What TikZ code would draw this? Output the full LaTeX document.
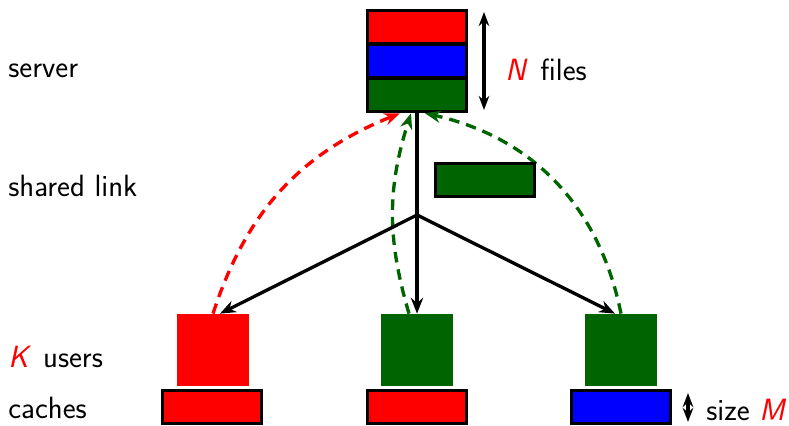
\documentclass[tikz,border=0pt]{standalone}
\usetikzlibrary{positioning, arrows.meta}
\definecolor{dkgreen}{RGB}{0,100,0}
\begin{document}
\begin{tikzpicture}[
    font=\sffamily\fontsize{17.5}{20}\selectfont,
    file/.style={rectangle, draw, line width=2pt, minimum width=1.98cm, minimum height=0.66cm, inner sep=0pt},
    user/.style={rectangle, minimum width=1.44cm, minimum height=1.44cm, inner sep=0pt},
    label/.style={anchor=base west, inner sep=0pt},
    link/.style={-{Stealth[length=9pt, width=7pt]}, line width=1.9pt},
    req/.style={-{Stealth[length=9pt, width=7pt]}, line width=1.9pt, dash pattern=on 6pt off 4pt},
    span/.style={{Stealth[length=8pt, width=6pt]}-{Stealth[length=8pt, width=6pt]}, line width=1.9pt}
]
    \useasboundingbox (0,0) rectangle (15.78,8.52);

    % Server
    \node[file, fill=red] (srvred) at (8.34,7.98) {};
    \node[file, fill=blue] (srvblue) at (8.34,7.30) {};
    \node[file, fill=dkgreen] (srvgreen) at (8.34,6.62) {};
    \coordinate (ntop) at (9.68,8.28);
    \coordinate (nbot) at (9.68,6.32);
    \draw[span] (ntop) -- (nbot);
    \node[anchor=west, inner sep=0pt] (nfiles) at (10.1,7.12) {\textit{\textcolor{red}{N}}\, files};

    % Nutzer und Caches
    \node[user, fill=red] (uleft) at (4.26,1.52) {};
    \node[user, fill=dkgreen] (umid) at (8.34,1.52) {};
    \node[user, fill=dkgreen] (uright) at (12.42,1.52) {};
    \node[file, fill=red] (cleft) at (4.24,0.38) {};
    \node[file, fill=red] (cmid) at (8.34,0.38) {};
    \node[file, fill=blue] (cright) at (12.42,0.38) {};
    \coordinate (mtop) at (13.76,0.66);
    \coordinate (mbot) at (13.76,0.08);
    \draw[span] (mtop) -- (mbot);
    \node[anchor=west, inner sep=0pt] (msize) at (14.12,0.32) {size \textit{\textcolor{red}{M}}};

    % Beschriftung links
    \node[label] (lserver) at (0.16,6.96) {server};
    \node[label] (llink) at (0.16,4.58) {shared link};
    \node[label] (lusers) at (0.16,1.16) {\textit{\textcolor{red}{K}}\, users};
    \node[label] (lcaches) at (0.16,0.14) {caches};

    % Anfragen
    \draw[req, red] (uleft.north) to[bend left=25] ([xshift=-0.34cm]srvgreen.south);
    \draw[req, dkgreen] ([xshift=-0.16cm]umid.north) to[bend left=17] ([xshift=-0.12cm]srvgreen.south);
    \draw[req, dkgreen] (uright.north) to[bend right=33] ([xshift=0.16cm]srvgreen.south);

    % Gemeinsamer Link
    \coordinate (hub) at (8.34,4.22);
    \draw[line width=1.9pt] (srvgreen.south) -- (hub);
    \draw[link] (hub) -- ([xshift=0.14cm]uleft.north);
    \draw[link] (hub) -- (umid.north);
    \draw[link] (hub) -- ([xshift=-0.12cm]uright.north);
    \node[file, fill=dkgreen] (packet) at (9.70,4.92) {};
\end{tikzpicture}
\end{document}
